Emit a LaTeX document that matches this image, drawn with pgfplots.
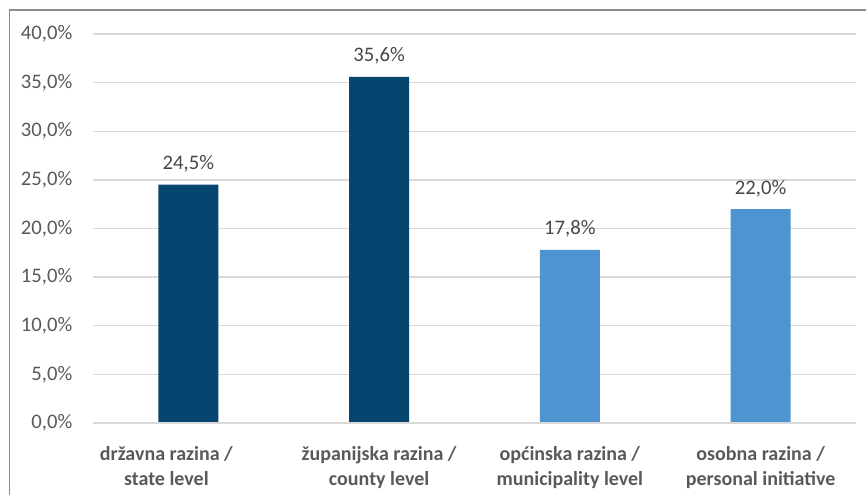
\documentclass[border=0pt]{standalone}
\usepackage{pgfplots}
\pgfplotsset{compat=1.18}
\usepackage{fontspec}
\setmainfont{Carlito}
\definecolor{darkbar}{HTML}{074571}
\definecolor{lightbar}{HTML}{4D94D0}
\definecolor{gridc}{HTML}{D9D9D9}
\definecolor{txt}{HTML}{595959}
\definecolor{frame}{HTML}{8C8C8C}
\begin{document}
\begin{tikzpicture}
\useasboundingbox (0,0) rectangle (649.5pt,-370.5pt);
\draw[frame, line width=1.1pt] (7pt,-372pt) -- (7pt,-7.5pt) -- (651pt,-7.5pt);
\begin{axis}[
  at={(69.75pt,-317.25pt)}, anchor=south west,
  scale only axis, width=572.25pt, height=291.75pt,
  ybar, bar width=45pt, bar shift=0pt,
  xmin=-0.5, xmax=3.5, ymin=0, ymax=40,
  ytick={0,5,...,40},
  xtick={0,1,2,3},
  xticklabels={{\hspace*{-33pt}državna razina /\\\hspace*{-33pt}state level},{županijska razina /\\county level},{općinska razina /\\municipality level},{osobna razina /\\personal initiative}},
  xticklabel style={align=center, font=\fontsize{15pt}{19pt}\selectfont\bfseries, text=txt, yshift=-14pt},
  /pgf/number format/assume math mode=true,
  yticklabel={\pgfmathprintnumber[fixed,fixed zerofill,precision=1,use comma]{\tick}\%},
  yticklabel style={font=\fontsize{15.5pt}{18pt}\selectfont, text=txt, xshift=-12pt},
  axis line style={draw=none},
  major tick length=0pt,
  ymajorgrids, grid style={gridc, line width=1.1pt},
  nodes near coords={\pgfmathprintnumber[fixed,fixed zerofill,precision=1,use comma]{\pgfplotspointmeta}\%},
  nodes near coords style={font=\fontsize{15.5pt}{18pt}\selectfont, text=txt!80!black, anchor=base, inner sep=0pt, yshift=11.25pt},
  clip=false,
]
\addplot[fill=darkbar, draw=none] coordinates {(0,24.5) (1,35.6)};
\addplot[fill=lightbar, draw=none] coordinates {(2,17.8) (3,22.0)};
\draw[gridc, line width=1.1pt] (axis cs:-0.5,0) -- (axis cs:3.5,0);
\end{axis}
\end{tikzpicture}
\end{document}
